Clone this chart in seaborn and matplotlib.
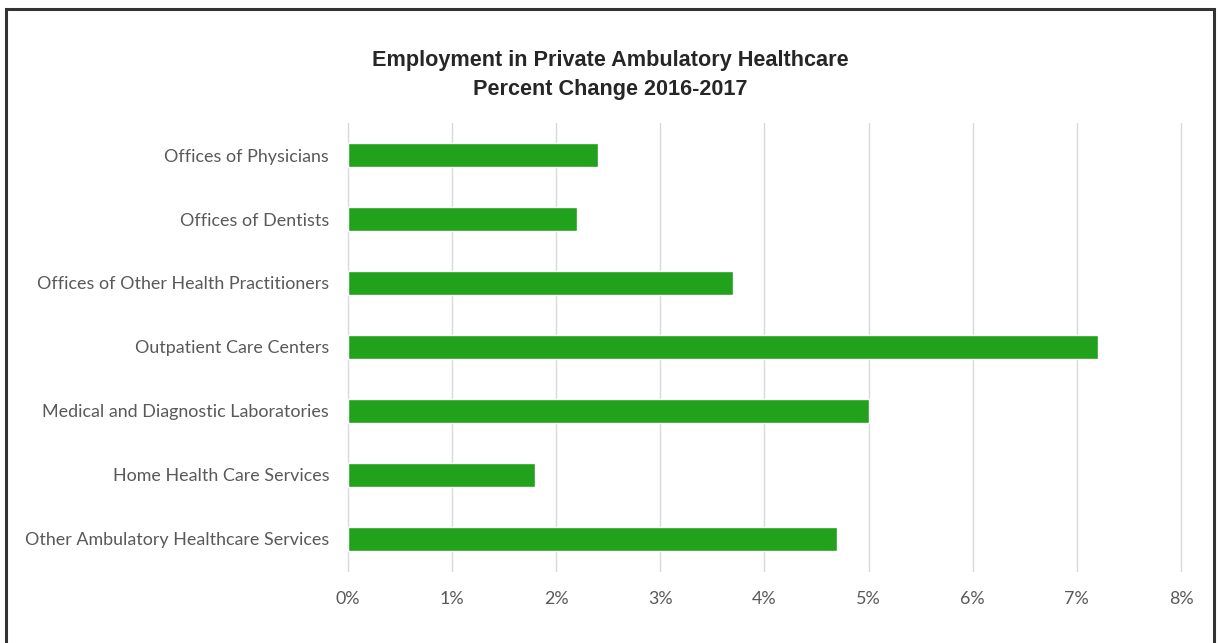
import matplotlib
matplotlib.use("Agg")
import matplotlib.pyplot as plt
import seaborn as sns
import pandas as pd
from matplotlib.patches import Rectangle
from matplotlib.ticker import FuncFormatter

# data
categories = ["Offices of Physicians", "Offices of Dentists",
              "Offices of Other Health Practitioners", "Outpatient Care Centers",
              "Medical and Diagnostic Laboratories", "Home Health Care Services",
              "Other Ambulatory Healthcare Services"]
pct_change = [2.4, 2.2, 3.7, 7.2, 5.0, 1.8, 4.7]
x_ticks = [0, 1, 2, 3, 4, 5, 6, 7, 8]

df = pd.DataFrame({"category": categories, "change": pct_change})

sns.set_style("white")
plt.rcParams["font.family"] = ["Lato", "DejaVu Sans"]

fig = plt.figure(figsize=(12.2, 6.43), dpi=100)
ax = fig.add_axes([0.2852, 0.1120, 0.6828, 0.6967])

sns.barplot(data=df, x="change", y="category", orient="h", color="#22A11C",
            width=0.36, saturation=1, ax=ax, zorder=3)

ax.set_xlim(0, 8)
ax.set_ylim(6.5, -0.5)
ax.set_xticks(x_ticks)
ax.xaxis.set_major_formatter(FuncFormatter(lambda v, p: f"{v:.0f}%"))
ax.grid(axis="x", color="#d9d9d9", linewidth=1, zorder=0)
ax.grid(axis="y", visible=False)
for gl in ax.get_xgridlines():
    gl.set_clip_on(False)
sns.despine(ax=ax, left=True, bottom=True)
ax.set_xlabel("")
ax.set_ylabel("")
ax.tick_params(axis="y", length=0, pad=13.5, labelsize=12.9, labelcolor="#595959")
ax.tick_params(axis="x", length=0, pad=14.5, labelsize=12.9, labelcolor="#595959")

fig.text(0.5, 0.8834, "Employment in Private Ambulatory Healthcare\nPercent Change 2016-2017",
         ha="center", va="center", fontsize=15.6, fontweight="bold", color="#262626",
         family=["Liberation Sans", "DejaVu Sans"], linespacing=1.55)

# dark frame around the chart
fig.patches.append(Rectangle((6 / 1220, -0.05), 1208 / 1220, 1.05 - 9 / 643,
                             transform=fig.transFigure, fill=False,
                             edgecolor="#333333", linewidth=2.2))

fig.savefig("out.png", dpi=100)
